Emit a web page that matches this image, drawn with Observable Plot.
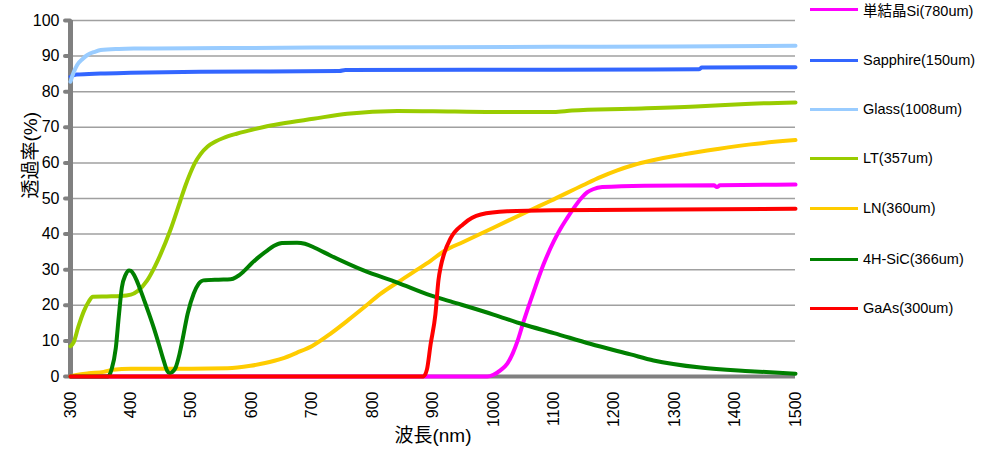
<!DOCTYPE html>
<html><head><meta charset="utf-8">
<script src="https://cdn.jsdelivr.net/npm/d3@7"></script>
<script src="https://cdn.jsdelivr.net/npm/@observablehq/plot@0.6"></script>
<style>
body{margin:0;background:#fff;font-family:"Liberation Sans","Noto Sans CJK JP",sans-serif;}
#wrap{position:relative;width:983px;height:452px;overflow:hidden;}
#legend{position:absolute;left:810px;top:0;width:173px;height:452px;}
.item{position:absolute;left:0;height:20px;display:flex;align-items:center;white-space:nowrap;font-size:14.5px;color:#000;font-family:"Liberation Sans","Noto Sans CJK JP",sans-serif;}
.sw{display:inline-block;width:48px;height:3px;margin-right:5px;}
</style></head><body><div id="wrap"><div id="legend"></div></div>
<script>
const seriesNames = ["単結晶Si(780um)","Sapphire(150um)","Glass(1008um)","LT(357um)","LN(360um)","4H-SiC(366um)","GaAs(300um)"];
const seriesColors = ["#ff00ff","#3366ff","#99ccff","#99cc00","#ffcc00","#008000","#ff0000"];
const xTicks = [300,400,500,600,700,800,900,1000,1100,1200,1300,1400,1500];
const yTicks = [0,10,20,30,40,50,60,70,80,90,100];
const gridTicks = [10,20,30,40,50,60,70,80,90,100];

const si = [[300,0],[990,0],[1000,0.5],[1012,1.8],[1023,3.6],[1032,6.5],[1040,10],[1050,15.5],[1067,24],[1083,31.5],[1100,38],[1111,41.5],[1122,44.5],[1133,47.3],[1145,50],[1155,51.7],[1165,52.6],[1180,53.2],[1250,53.6],[1365,53.7],[1370,53.2],[1375,53.7],[1500,53.9]];
const sapphire = [[300,84.2],[310,84.8],[350,85.1],[400,85.3],[515,85.6],[745,85.8],[755,86.1],[1100,86.2],[1340,86.3],[1345,86.8],[1500,86.9]];
const glass = [[300,82.8],[305,85.3],[311,87.5],[320,89.2],[328,90.3],[340,91.2],[350,91.7],[380,92],[405,92.1],[500,92.2],[700,92.4],[900,92.5],[1100,92.6],[1300,92.7],[1500,92.9]];
const lt = [[300,8.5],[305,9.5],[313,14],[322,18.3],[330,21],[337,22.4],[360,22.5],[383,22.6],[400,23],[411,24],[427,27],[440,31],[449,34.3],[465,41],[482,49.5],[490,53.5],[498,57],[506,60],[515,62.4],[527,64.6],[540,66],[553,67],[575,68.2],[593,69],[620,70.1],[648,71],[702,72.4],[758,73.8],[841,74.6],[900,74.5],[1000,74.3],[1100,74.3],[1130,74.7],[1227,75.2],[1343,75.9],[1409,76.5],[1500,77]];
const ln = [[300,0],[310,0.4],[330,0.9],[355,1.3],[370,1.9],[400,2.2],[500,2.2],[560,2.3],[598,3],[620,3.7],[650,5],[675,6.7],[700,8.6],[730,12],[760,15.9],[785,19.3],[813,23.2],[841,26.4],[870,29.6],[896,32.5],[918,35.2],[950,37.8],[1000,41.8],[1061,46.7],[1094,49.3],[1149,53.8],[1177,56],[1205,57.9],[1232,59.4],[1260,60.6],[1315,62.4],[1371,63.9],[1426,65.2],[1500,66.4]];
const sic = [[300,0],[362,0],[368,2],[375,8],[380,17],[385,25],[391,28.5],[397,29.8],[400,29.7],[405,28.6],[410,26.8],[416,24.2],[422,21.4],[430,17.6],[438,13.6],[446,9.2],[454,4.6],[460,1.6],[464,0.9],[468,1.2],[474,2.5],[480,6],[485,10],[494,17.7],[504,23.3],[512,26],[520,27],[545,27.2],[565,27.3],[575,28],[587,29.6],[600,31.8],[612,33.6],[625,35.3],[637,36.7],[650,37.5],[675,37.6],[688,37.3],[705,36.1],[730,34],[785,29.8],[841,26.4],[896,22.8],[929,21.1],[1000,17.4],[1050,14.6],[1100,12.2],[1160,9.2],[1227,6.2],[1265,4.5],[1343,2.5],[1425,1.5],[1500,0.8]];
const gaas = [[300,0],[884,0],[890,2],[896,9],[904,17.5],[909,27],[913,31],[918,34.3],[929,38.8],[950,42.8],[979,45.5],[1023,46.4],[1100,46.7],[1300,46.9],[1500,47.1]];

const seriesData = [si, sapphire, glass, lt, ln, sic, gaas];
const rows = [];
seriesData.forEach((arr, i) => arr.forEach(([wl, t]) => rows.push({series: seriesNames[i], wl, t})));

const font = '"Liberation Sans","Noto Sans CJK JP",sans-serif';
const chart = Plot.plot({
  width: 983, height: 452,
  marginLeft: 70, marginRight: 188, marginTop: 20, marginBottom: 76,
  style: {fontFamily: font, background: "#fff", color: "#000"},
  x: {domain: [300, 1500]},
  y: {domain: [0, 100]},
  color: {domain: seriesNames, range: seriesColors},
  marks: [
    Plot.ruleY(gridTicks, {stroke: "#a0a0a0", strokeWidth: 1.5}),
    Plot.axisY(yTicks, {tickSize: 5, stroke: "#808080", strokeWidth: 4, strokeLinecap: "round", fill: "#000", fontSize: 16, tickPadding: 6, label: null}),
    Plot.axisX(xTicks, {tickSize: 0, tickRotate: -90, tickPadding: 15, fontSize: 16, fill: "#000", label: null, tickFormat: d => String(d)}),
    Plot.ruleX([300], {stroke: "#808080", strokeWidth: 5}),
    Plot.ruleY([0], {stroke: "#808080", strokeWidth: 4}),
    Plot.line(rows, {x: "wl", y: "t", z: "series", stroke: "series", strokeWidth: 4, curve: "monotone-x"}),
    Plot.text(["透過率(%)"], {frameAnchor: "left", dx: -40, rotate: -90, fontSize: 19, fill: "#000"}),
    Plot.text(["波長(nm)"], {frameAnchor: "bottom", dy: 65, fontSize: 19, fill: "#000"})
  ]
});
document.getElementById("wrap").prepend(chart);

const legendY = [9, 60, 109, 158, 208, 259, 308];
const legend = document.getElementById("legend");
seriesNames.forEach((name, i) => {
  const d = document.createElement("div");
  d.className = "item";
  d.style.top = (legendY[i] - 10) + "px";
  d.innerHTML = `<span class="sw" style="background:${seriesColors[i]}"></span><span>${name}</span>`;
  legend.appendChild(d);
});
</script>
</body></html>
